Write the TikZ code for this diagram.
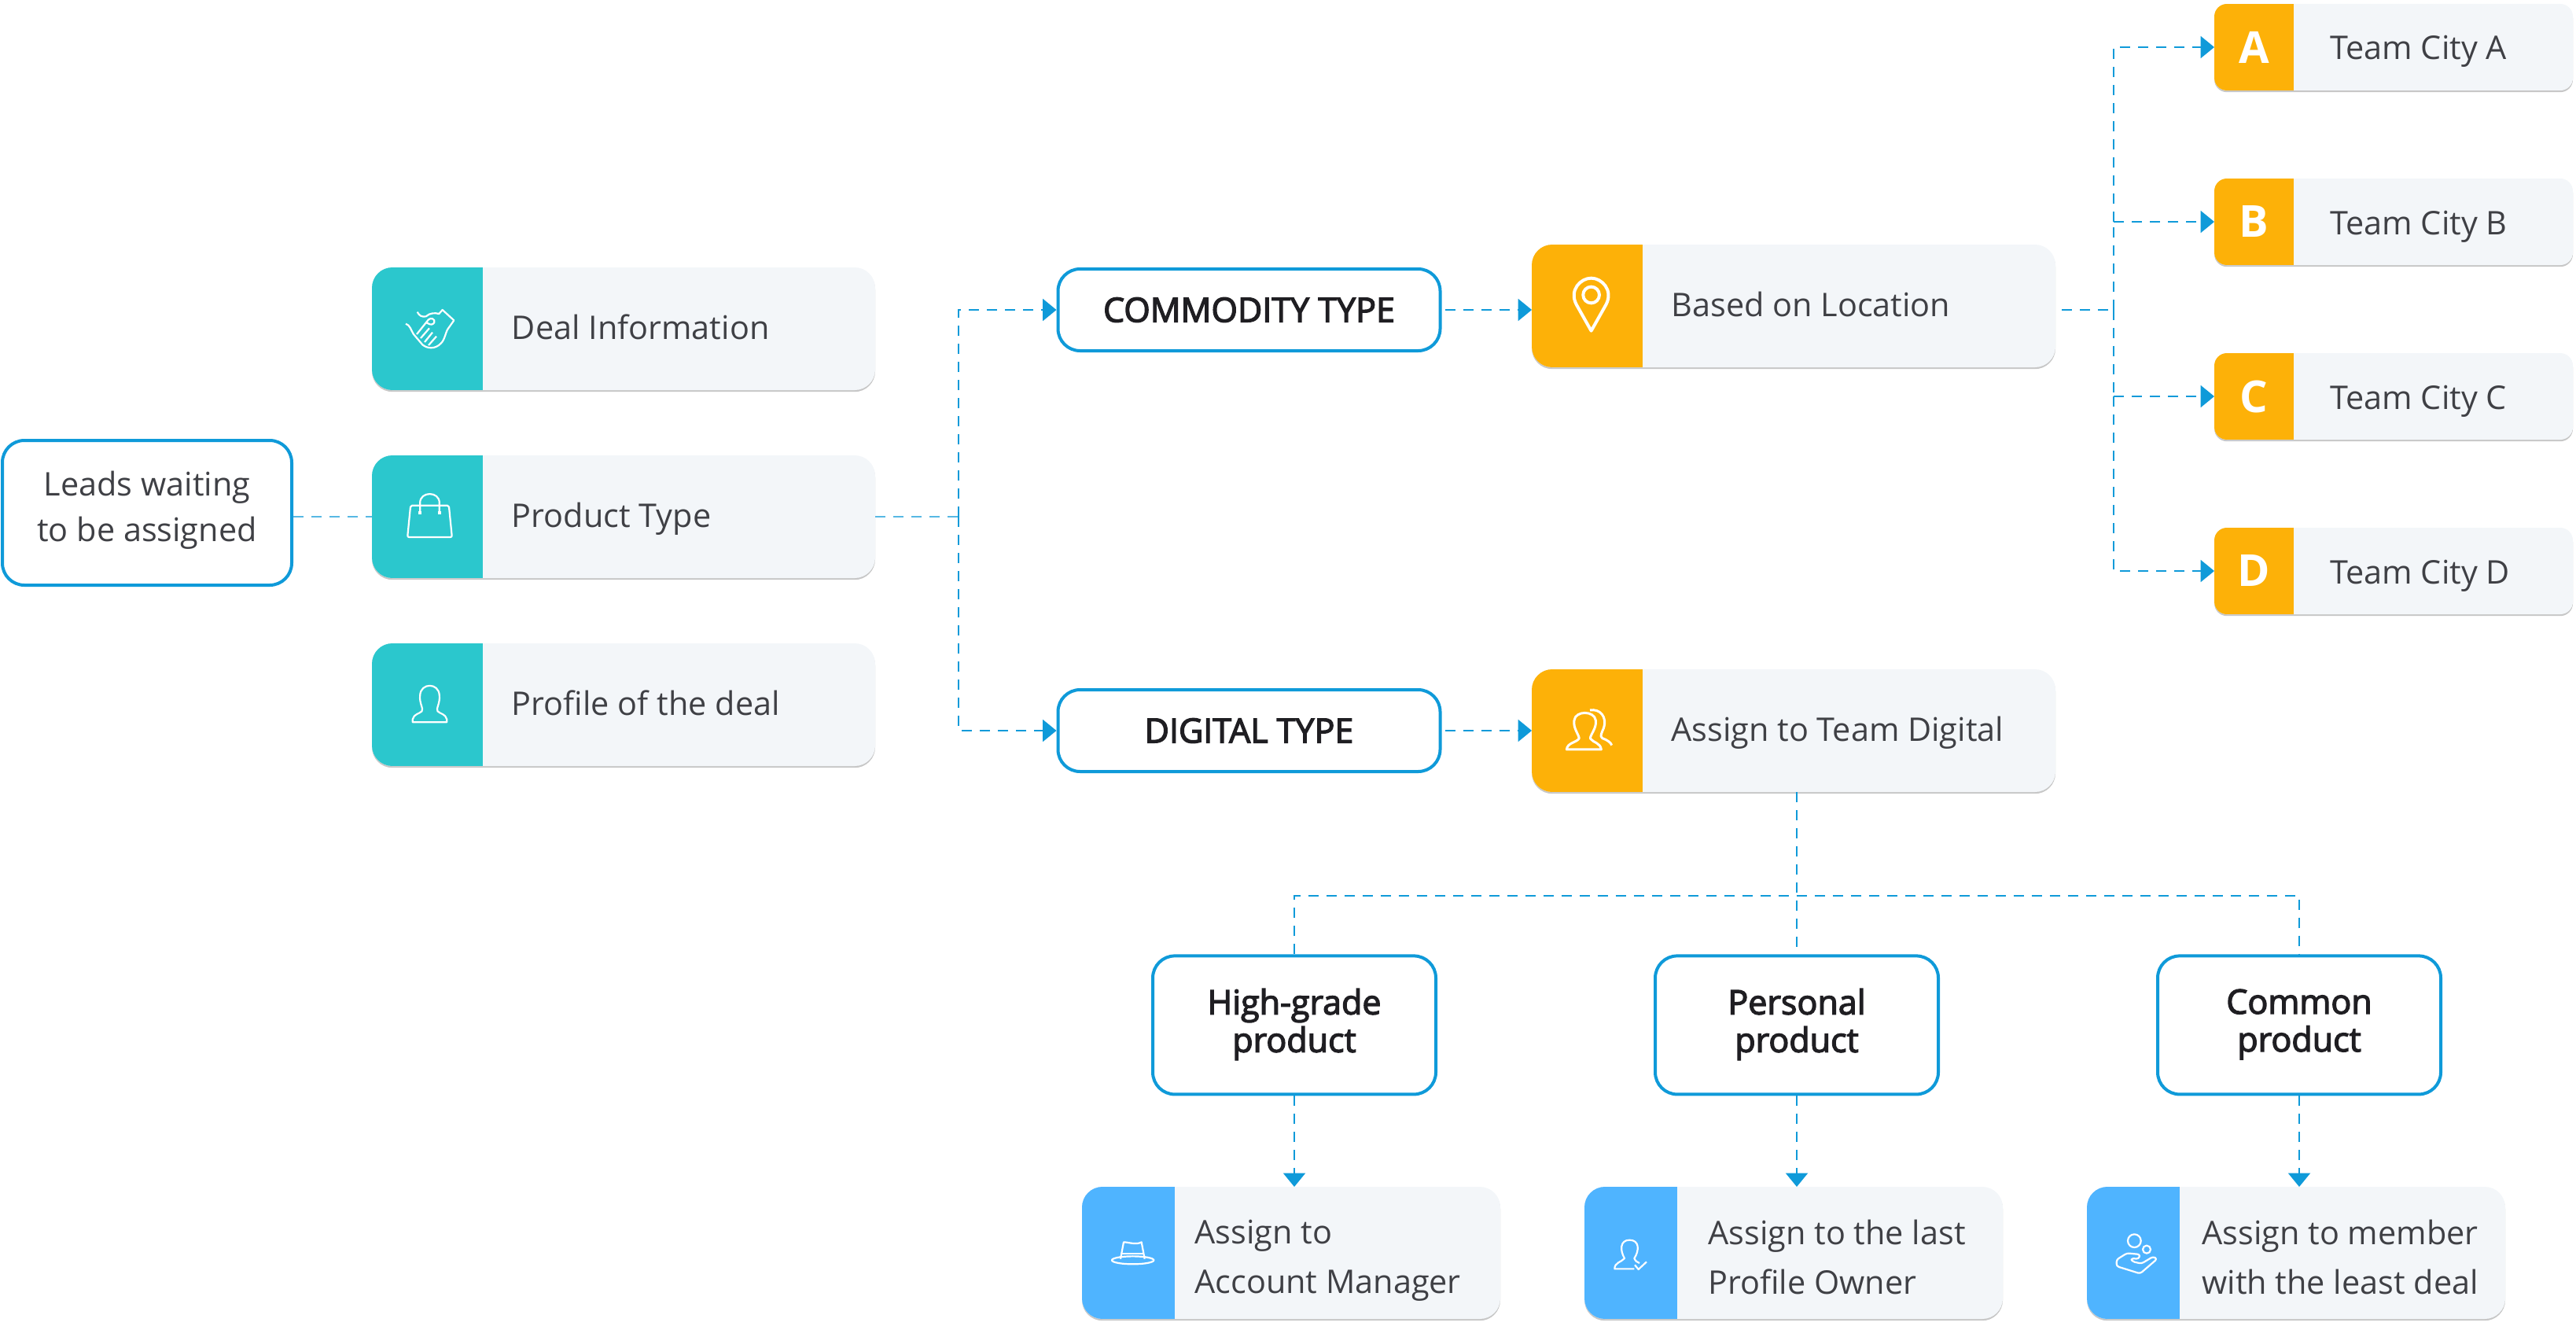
\documentclass[tikz,border=0pt]{standalone}
\usepackage{fontspec}
\setmainfont{Open Sans}
\newfontfamily\titlefont[FakeBold=3]{Open Sans}
\usetikzlibrary{arrows.meta, positioning, calc, shadows}

\definecolor{flowblue}{HTML}{0F9AD9}
\definecolor{cardbg}{HTML}{F3F6F9}
\definecolor{tealtab}{HTML}{2BC7CD}
\definecolor{orangetab}{HTML}{FDB108}
\definecolor{bluetab}{HTML}{4FB4FF}
\definecolor{labelgray}{HTML}{3F4045}
\definecolor{titleblack}{HTML}{1F1E22}

\tikzset{
	iconline/.style={draw=white, line width=1.1pt, line join=round, x=.1667pt, y=-.1667pt, shift={(-135,-135)}},
	pics/shakeicon/.style={code={
		\begin{scope}[iconline]
			\draw (48,110) .. controls (65,115) and (68,135) .. (78,150) -- (112,190) .. controls (130,205) and (160,208) .. (182,185) .. controls (198,170) and (200,140) .. (210,128) -- (232,97) -- (188,57) -- (175,72) .. controls (160,68) and (140,68) .. (125,82) .. controls (110,85) and (100,80) .. (92,65);
			\draw (90,150) -- (130,100) .. controls (135,90) and (150,85) .. (157,97) .. controls (160,108) and (150,115) .. (140,112) -- (125,105);
			\draw (105,165) -- (138,127);
			\draw (120,180) -- (150,143);
			\draw (135,192) -- (165,158);
		\end{scope}
	}},
	pics/bagicon/.style={code={
		\begin{scope}[iconline]
			\draw[rounded corners=1pt] (62,95) -- (208,95) -- (220,216) -- (50,216) -- cycle;
			\draw (98,122) -- (98,85) .. controls (98,40) and (172,40) .. (172,85) -- (172,122);
			\fill[white] (92,118) rectangle (104,130);
			\fill[white] (166,118) rectangle (178,130);
		\end{scope}
	}},
	pics/personicon/.style={code={
		\begin{scope}[iconline]
			\draw (70,202) -- (200,202) -- (200,190) .. controls (195,170) and (175,170) .. (165,160) .. controls (158,150) and (175,130) .. (172,100) .. controls (170,50) and (100,50) .. (98,100) .. controls (95,130) and (112,150) .. (105,160) .. controls (95,170) and (75,170) .. (70,190) -- cycle;
		\end{scope}
	}},
	pics/pinicon/.style={code={
		\begin{scope}[iconline, line width=2pt]
			\draw (135,236) -- (78,135) .. controls (50,80) and (95,35) .. (135,35) .. controls (175,35) and (220,80) .. (192,135) -- cycle;
			\draw (135,99) circle[radius=31];
		\end{scope}
	}},
	pics/groupicon/.style={code={
		\begin{scope}[iconline, line width=1.5pt]
			\draw (49,211) -- (181,211) .. controls (178,185) and (150,185) .. (140,170) .. controls (135,160) and (165,130) .. (160,100) .. controls (155,62) and (82,62) .. (78,100) .. controls (72,130) and (100,160) .. (96,170) .. controls (85,185) and (52,185) .. (49,211) -- cycle;
			\draw (138,61) .. controls (175,55) and (205,85) .. (190,130) .. controls (182,150) and (175,160) .. (185,168) .. controls (205,175) and (218,185) .. (221,195);
		\end{scope}
	}},
	pics/haticon/.style={code={
		\begin{scope}[iconline]
			\draw (90,92) -- (102,28) .. controls (120,28) and (150,40) .. (170,28) -- (182,92);
			\draw (95,72) -- (177,72);
			\draw (137,97) ellipse [x radius=80, y radius=15];
		\end{scope}
	}},
	pics/checkicon/.style={code={
		\begin{scope}[iconline]
			\draw (145,190) -- (70,190) .. controls (70,165) and (95,165) .. (108,150) .. controls (90,120) and (90,80) .. (127,80) .. controls (165,80) and (165,120) .. (145,150) .. controls (150,160) and (155,165) .. (165,168);
			\draw (147,175) -- (161,192) -- (192,163);
		\end{scope}
	}},
	pics/handicon/.style={code={
		\begin{scope}[iconline]
			\draw (133,83) circle[radius=25];
			\draw (180,116) circle[radius=15];
			\draw[rounded corners=1.5pt] (65,155) -- (105,130) -- (155,135) -- (150,152) -- (120,150) -- (125,162) -- (160,170) -- (205,143) -- (220,152) -- (155,208) -- (65,180) -- cycle;
		\end{scope}
	}}
}

\begin{document}
\begin{tikzpicture}[
		flow/.style={draw=flowblue, line width=1pt, dash pattern=on 6.5pt off 5pt},
		arrow/.style={flow, -{Triangle[length=8.7pt,width=14pt,fill=flowblue]}},
		thinflow/.style={draw=flowblue!70, line width=.7pt, dash pattern=on 6.5pt off 5pt},
		outlinebox/.style={draw=flowblue, line width=2pt, rounded corners=14pt, fill=white, align=center, inner sep=0pt},
		leadsbox/.style={outlinebox, minimum width=184pt, minimum height=92pt, text=labelgray, font=\fontsize{20.7}{29}\selectfont,
			execute at begin node=\rule{0pt}{33pt}, execute at end node=\rule[-8pt]{0pt}{8pt}},
		typebox/.style={outlinebox, minimum width=243pt, minimum height=52pt, text=titleblack, font=\fontsize{21.5}{24}\titlefont},
		gradebox/.style={outlinebox, minimum width=180pt, minimum height=88pt, text=titleblack, font=\fontsize{21.5}{24}\titlefont,
			execute at begin node=\rule{0pt}{28pt}, execute at end node=\rule[-6pt]{0pt}{6pt}},
		card/.style 2 args={rectangle, rounded corners=#2, fill=cardbg, outer sep=0pt, inner sep=0pt,
			drop shadow={shadow xshift=0pt, shadow yshift=-1.1pt, opacity=.4, fill=black!55},
			path picture={\fill[#1, sharp corners] (path picture bounding box.north west) rectangle ([xshift=\tabwidth]path picture bounding box.south west);}},
		leftcard/.style={card={tealtab}{13pt}, minimum width=320pt, minimum height=78pt},
		midcard/.style={card={orangetab}{13pt}, minimum width=333pt, minimum height=78pt},
		citycard/.style={card={orangetab}{8pt}, minimum width=228pt, minimum height=55pt},
		assigncard/.style={card={bluetab}{13pt}, minimum width=266pt, minimum height=84pt},
		cardlabel/.style={anchor=west, align=left, inner sep=0pt, text=labelgray, font=\fontsize{20.7}{31.5}\selectfont, yshift=-1.8pt,
			execute at begin node=\rule{0pt}{22pt}, execute at end node=\rule[-12pt]{0pt}{12pt}},
		citylabel/.style={cardlabel, yshift=-1.2pt},
		twolabel/.style={cardlabel, yshift=-6.6pt},
		cityletter/.style={inner sep=0pt, text=white, font=\fontsize{28}{28}\selectfont\bfseries}
	]
	\useasboundingbox (0,0) rectangle (1638pt,-843pt);
	
	% Leads
	\node (leads) [leadsbox] at (93.5pt,-326pt) {Leads waiting\\to be assigned};
	
	% Lead details
	\def\tabwidth{70.5pt}
	\node (deal) [leftcard] at (396.5pt,-209pt) {};
	\node (product) [leftcard, below=41.5pt of deal] {};
	\node (profile) [leftcard, below=41.5pt of product] {};
	\node (dealtxt) [cardlabel] at ([xshift=88.75pt]deal.west) {Deal Information};
	\node (producttxt) [cardlabel] at ([xshift=88.75pt]product.west) {Product Type};
	\node (profiletxt) [cardlabel] at ([xshift=88.75pt]profile.west) {Profile of the deal};
	\pic at ([xshift=36pt,yshift=-1pt]deal.west) {shakeicon};
	\pic at ([xshift=36.75pt,yshift=.5pt]product.west) {bagicon};
	\pic at ([xshift=36.75pt]profile.west) {personicon};
	
	% Types
	\node (commodity) [typebox] at (794.25pt,-197pt) {COMMODITY TYPE};
	\node (digital) [typebox, below=213.5pt of commodity] {DIGITAL TYPE};
	
	% Routing
	\node (location) [midcard] at (1140.5pt,-194.5pt) {};
	\node (teamdigital) [midcard] at (1140.5pt,-464.5pt) {};
	\node (locationtxt) [cardlabel] at ([xshift=88.5pt]location.west) {Based on Location};
	\node (teamdigitaltxt) [cardlabel] at ([xshift=88.5pt]teamdigital.west) {Assign to Team Digital};
	\pic at ([xshift=37.8pt,yshift=1pt]location.west) {pinicon};
	\pic at ([xshift=36.5pt,yshift=.7pt]teamdigital.west) {groupicon};
	
	% City teams
	\def\tabwidth{50.5pt}
	\node (teamA) [citycard] at (1522pt,-30pt) {};
	\node (teamB) [citycard, below=56pt of teamA] {};
	\node (teamC) [citycard, below=56pt of teamB] {};
	\node (teamD) [citycard, below=56pt of teamC] {};
	\foreach \t in {A,B,C,D} {
		\node (teamtxt\t) [citylabel] at ([xshift=73.5pt]team\t.west) {Team City \t};
		\node (letter\t) [cityletter] at ([xshift=25.25pt]team\t.west) {\t};
	}
	
	% Product grades
	\node (highgrade) [gradebox] at (823pt,-651.7pt) {High-grade\\product};
	\node (personal) [gradebox, right=137.5pt of highgrade] {Personal\\product};
	\node (common) [gradebox, right=137.5pt of personal] {Common\\product};
	
	% Assignments
	\def\tabwidth{59pt}
	\node (manager) [assigncard] at (821pt,-796.5pt) {};
	\node (owner) [assigncard] at (1140.5pt,-796.5pt) {};
	\node (member) [assigncard] at (1460pt,-796.5pt) {};
	\node (managertxt) [twolabel] at ([xshift=71.5pt]manager.west) {Assign to\\Account Manager};
	\node (ownertxt) [twolabel] at ([xshift=78.5pt]owner.west) {Assign to the last\\Profile Owner};
	\node (membertxt) [twolabel] at ([xshift=73pt]member.west) {Assign to member\\with the least deal};
	\pic at ([xshift=32pt,yshift=-11pt]manager.west) {haticon};
	\pic at ([xshift=30pt,yshift=-1pt]owner.west) {checkicon};
	\pic at ([xshift=30.5pt,yshift=-1pt]member.west) {handicon};
	
	% Junctions
	\coordinate (trunkL) at (609.5pt,-328.5pt);
	\coordinate (trunkR) at (1344pt,-196.75pt);
	\coordinate (bus) at (1142.5pt,-569.5pt);
	
	% Arrows
	\draw[thinflow] (product.west -| leads.east) -- (product.west);
	\draw[thinflow] (product.east) -- (trunkL);
	\draw[arrow] (trunkL) |- (commodity.west);
	\draw[arrow] (trunkL) |- (digital.west);
	
	\draw[arrow] ([xshift=2pt]commodity.east) -- (commodity.east -| location.west);
	\draw[arrow] ([xshift=2pt]digital.east) -- (digital.east -| teamdigital.west);
	
	\draw[flow, shorten <=4pt] (trunkR -| location.east) -- (trunkR);
	\draw[flow] (trunkR) -- (trunkR |- teamB);
	\draw[flow] (trunkR) -- (trunkR |- teamC);
	\draw[arrow] (trunkR |- teamB) |- (teamA.west);
	\draw[arrow] (trunkR |- teamB) -- (teamB.west);
	\draw[arrow] (trunkR |- teamC) -- (teamC.west);
	\draw[arrow] (trunkR |- teamC) |- (teamD.west);
	
	\draw[flow] (personal.north |- teamdigital.south) -- (personal.north);
	\draw[flow] (highgrade.north) |- (bus) -| (common.north);
	
	\draw[arrow] (highgrade.south) -- (highgrade.south |- manager.north);
	\draw[arrow] (personal.south) -- (personal.south |- owner.north);
	\draw[arrow] (common.south) -- (common.south |- member.north);
	
\end{tikzpicture}
\end{document}
